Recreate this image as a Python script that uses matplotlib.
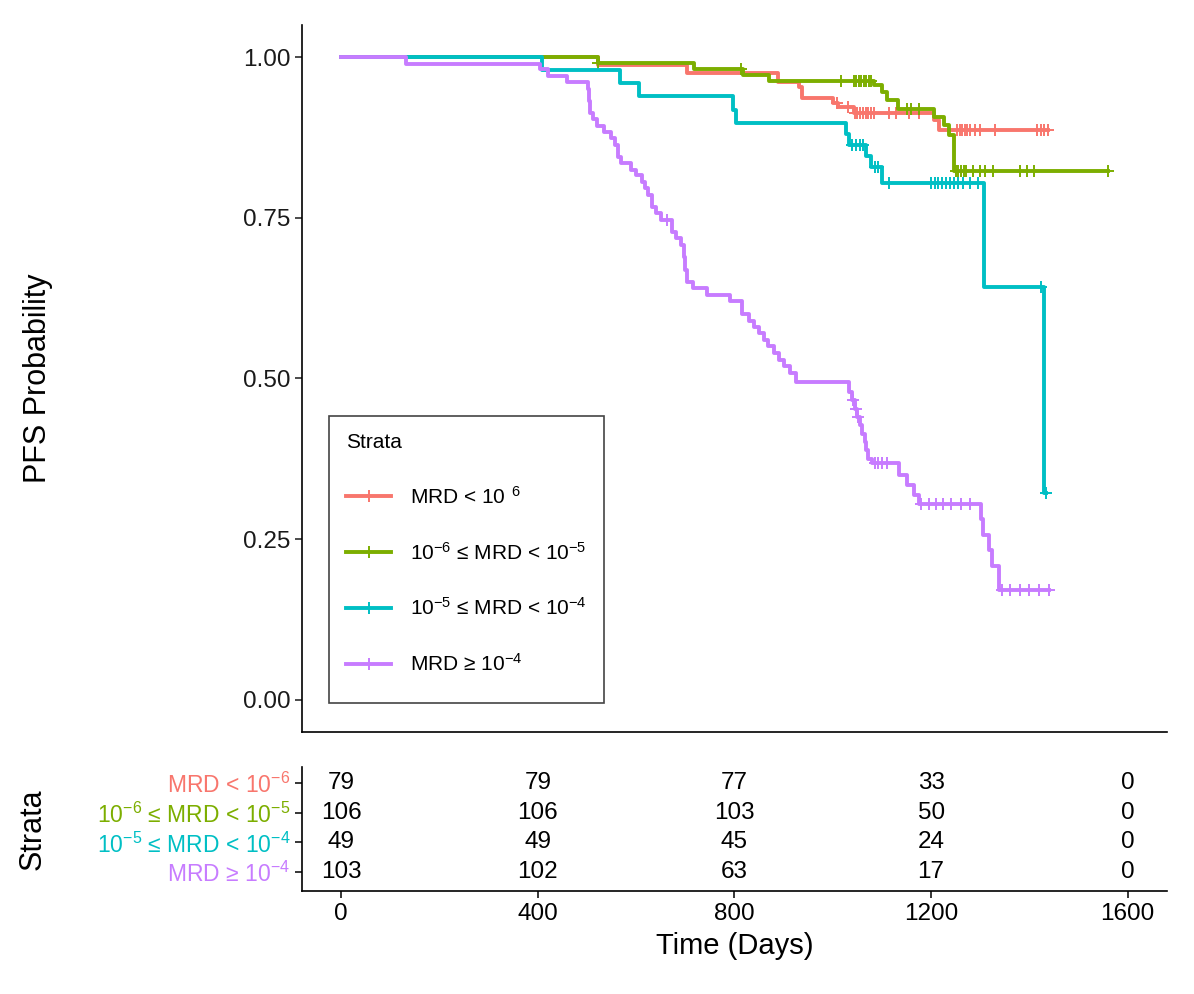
import numpy as np
import matplotlib.pyplot as plt
from matplotlib.lines import Line2D
from matplotlib.patches import Rectangle

plt.rcParams['font.family'] = ['Liberation Sans', 'DejaVu Sans']
plt.rcParams['mathtext.fontset'] = 'custom'
plt.rcParams['mathtext.rm'] = 'Liberation Sans'
plt.rcParams['mathtext.it'] = 'Liberation Sans:italic'
plt.rcParams['mathtext.bf'] = 'Liberation Sans:bold'
plt.rcParams['mathtext.default'] = 'regular'

# strata, top to bottom in the risk table
strata = ["MRD < 10$^{-6}$",
          "10$^{-6}$ ≤ MRD < 10$^{-5}$",
          "10$^{-5}$ ≤ MRD < 10$^{-4}$",
          "MRD ≥ 10$^{-4}$"]
legend_labels = ["MRD < 10$^{\\;\\;6}$",
                 "10$^{-6}$ ≤ MRD < 10$^{-5}$",
                 "10$^{-5}$ ≤ MRD < 10$^{-4}$",
                 "MRD ≥ 10$^{-4}$"]
colors = ['#F8766D', '#7CAE00', '#00BFC4', '#C77CFF']

# Kaplan-Meier steps: event times (days), survival after each step, censor times
red_t = [522, 704, 888, 931, 938, 1000, 1010, 1043, 1206, 1216]
red_s = [0.987, 0.975, 0.962, 0.954, 0.936, 0.928, 0.922, 0.913, 0.902, 0.886]
red_c = [1009, 1030, 1045, 1050, 1056, 1062, 1067, 1072, 1077, 1083, 1114, 1128, 1155,
         1175, 1253, 1258, 1263, 1268, 1274, 1280, 1290, 1300, 1330, 1416, 1423, 1430, 1437]

green_t = [522, 717, 818, 870, 1083, 1101, 1111, 1132, 1206, 1226, 1236, 1246]
green_s = [0.991, 0.981, 0.972, 0.963, 0.956, 0.946, 0.933, 0.920, 0.907, 0.894, 0.879, 0.822]
green_c = [523, 813, 1016, 1043, 1048, 1053, 1058, 1063, 1068, 1073, 1078, 1150, 1160, 1175,
           1250, 1255, 1260, 1266, 1272, 1285, 1300, 1310, 1325, 1380, 1395, 1410, 1559]

cyan_t = [409, 568, 605, 796, 803, 1026, 1033, 1067, 1077, 1101, 1307, 1430]
cyan_s = [0.980, 0.959, 0.939, 0.918, 0.898, 0.880, 0.863, 0.846, 0.829, 0.804, 0.643, 0.322]
cyan_c = [1040, 1048, 1055, 1062, 1085, 1092, 1115, 1200, 1208, 1215, 1222, 1230, 1238,
          1246, 1255, 1264, 1280, 1295, 1423, 1433]

purple_t = [131, 405, 420, 460, 501, 503, 507, 512, 520, 535, 548, 556, 562, 570, 590, 600,
            612, 618, 625, 632, 640, 650, 672, 680, 692, 697, 700, 704, 716, 745, 790, 815,
            830, 840, 850, 860, 868, 880, 890, 900, 912, 925, 1032, 1040, 1045, 1050, 1055,
            1060, 1065, 1068, 1072, 1080, 1135, 1150, 1165, 1175, 1302, 1306, 1318, 1324, 1338]
purple_s = [0.990, 0.981, 0.971, 0.961, 0.951, 0.932, 0.913, 0.903, 0.893, 0.883, 0.874, 0.864,
            0.845, 0.835, 0.825, 0.816, 0.806, 0.796, 0.786, 0.767, 0.757, 0.747, 0.728, 0.718,
            0.708, 0.689, 0.669, 0.650, 0.640, 0.630, 0.620, 0.600, 0.590, 0.580, 0.570, 0.560,
            0.550, 0.540, 0.529, 0.519, 0.509, 0.494, 0.479, 0.466, 0.453, 0.440, 0.427, 0.414,
            0.401, 0.388, 0.375, 0.368, 0.350, 0.334, 0.318, 0.304, 0.281, 0.257, 0.233, 0.209,
            0.171]
purple_c = [663, 1042, 1047, 1052, 1085, 1092, 1100, 1110, 1180, 1195, 1210, 1225, 1240, 1260,
            1280, 1345, 1360, 1380, 1400, 1420, 1440]

# numbers at risk
risk_times = [0, 400, 800, 1200, 1600]
risk_red = [79, 79, 77, 33, 0]
risk_green = [106, 106, 103, 50, 0]
risk_cyan = [49, 49, 45, 24, 0]
risk_purple = [103, 102, 63, 17, 0]

curves = [(red_t, red_s, red_c), (green_t, green_s, green_c),
          (cyan_t, cyan_s, cyan_c), (purple_t, purple_s, purple_c)]
risk = [risk_red, risk_green, risk_cyan, risk_purple]

fig = plt.figure(figsize=(11.94, 9.94), dpi=100)
ax = fig.add_axes([0.2529, 0.2636, 0.7245, 0.7113])
tab = fig.add_axes([0.2529, 0.1036, 0.7245, 0.1247])

for (t, s, c), col in zip(curves, colors):
    tt = np.r_[0, t]
    ss = np.r_[1.0, s]
    end = max(c[-1], t[-1])
    ax.step(np.r_[tt, end], np.r_[ss, ss[-1]], where='post', color=col, lw=2.8)
    idx = np.searchsorted(tt, c, side='right') - 1
    ax.plot(c, ss[idx], ls='none', marker='+', ms=8, mew=1.4, color=col)

ax.set_xlim(-80, 1680)
ax.set_ylim(-0.05, 1.05)
ax.set_yticks([0, 0.25, 0.5, 0.75, 1.0])
ax.set_yticklabels(['0.00', '0.25', '0.50', '0.75', '1.00'])
ax.tick_params(axis='x', length=0, labelbottom=False)
ax.tick_params(axis='y', labelsize=17.5, length=5, width=1.1, colors='#1a1a1a')
for sp in ['top', 'right']:
    ax.spines[sp].set_visible(False)
for sp in ['left', 'bottom']:
    ax.spines[sp].set_linewidth(1.2)
ax.set_ylabel('PFS Probability', fontsize=22)
ax.yaxis.set_label_coords(-0.288, 0.5)

# legend: frame drawn separately so its size matches
ax.add_patch(Rectangle((0.0312, 0.041), 0.3180, 0.406, transform=ax.transAxes,
                       facecolor='white', edgecolor='#444444', lw=1.2, zorder=4))
handles = [Line2D([], [], color=col, lw=2.8, marker='+', ms=8, mew=1.4) for col in colors]
leg = ax.legend(handles, legend_labels, title='Strata', loc='upper left',
                bbox_to_anchor=(0.0312, 0.447), borderaxespad=0, fontsize=15,
                title_fontsize=15, alignment='left', numpoints=1, frameon=False,
                handlelength=2.2, handletextpad=0.9, labelspacing=1.63, borderpad=0.8)
leg.set_zorder(5)

# risk table
ypos = [4, 3, 2, 1]
for y, row in zip(ypos, risk):
    for x, n in zip(risk_times, row):
        tab.text(x, y, str(n), ha='center', va='center', fontsize=17.5)
tab.set_xlim(-80, 1680)
tab.set_ylim(0.36, 4.54)
tab.set_xticks(risk_times)
tab.set_yticks(ypos)
tab.set_yticklabels(strata)
for lab, col in zip(tab.get_yticklabels(), colors):
    lab.set_color(col)
tab.tick_params(axis='y', labelsize=16.5, length=5, width=1.1)
tab.tick_params(axis='x', labelsize=17.5, length=5, width=1.1)
for sp in ['top', 'right']:
    tab.spines[sp].set_visible(False)
for sp in ['left', 'bottom']:
    tab.spines[sp].set_linewidth(1.2)
tab.set_xlabel('Time (Days)', fontsize=21, labelpad=5)
tab.set_ylabel('Strata', fontsize=22)
tab.yaxis.set_label_coords(-0.294, 0.5)

fig.savefig('out.png', dpi=100)
